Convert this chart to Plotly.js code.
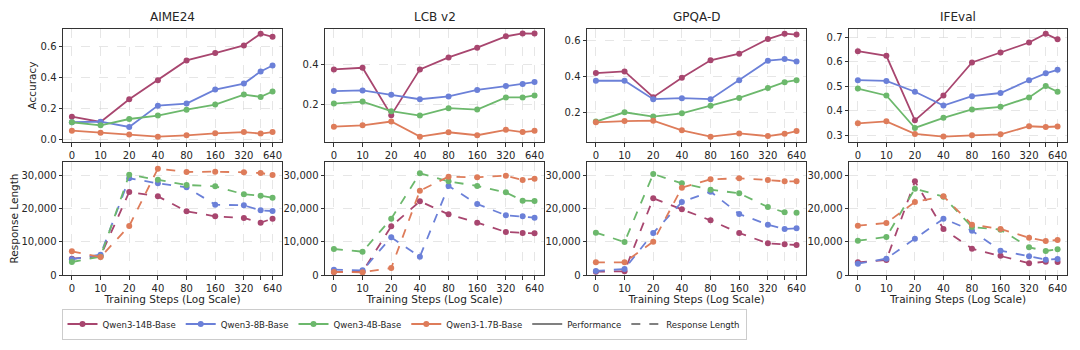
<!DOCTYPE html>
<html><head><meta charset="utf-8">
<script src="https://cdn.plot.ly/plotly-3.0.1.min.js"></script>
<style>html,body{margin:0;padding:0;background:#fff}#chart{width:1080px;height:350px}</style>
</head><body><div id="chart"></div>
<script>
const steps = [0, 10, 20, 40, 80, 160, 320, 480, 640];
const tickSteps = [0, 10, 20, 40, 80, 160, 320, 480, 640];
const tickLabels = ['0', '10', '20', '40', '80', '160', '320', '', '640'];
const benchmarks = ['AIME24', 'LCB v2', 'GPQA-D', 'IFEval'];
const models = ['Qwen3-14B-Base', 'Qwen3-8B-Base', 'Qwen3-4B-Base', 'Qwen3-1.7B-Base'];

// Accuracy (performance)
const acc_AIME24_14B = [0.146, 0.112, 0.258, 0.381, 0.508, 0.555, 0.604, 0.680, 0.660];
const acc_AIME24_8B  = [0.110, 0.114, 0.080, 0.217, 0.230, 0.320, 0.359, 0.437, 0.475];
const acc_AIME24_4B  = [0.110, 0.090, 0.131, 0.153, 0.191, 0.224, 0.288, 0.273, 0.308];
const acc_AIME24_17B = [0.056, 0.043, 0.032, 0.017, 0.026, 0.039, 0.047, 0.037, 0.047];

const acc_LCB_14B = [0.375, 0.383, 0.145, 0.375, 0.435, 0.484, 0.541, 0.556, 0.555];
const acc_LCB_8B  = [0.266, 0.269, 0.247, 0.225, 0.239, 0.272, 0.291, 0.301, 0.311];
const acc_LCB_4B  = [0.203, 0.213, 0.165, 0.143, 0.180, 0.173, 0.234, 0.234, 0.244];
const acc_LCB_17B = [0.087, 0.094, 0.113, 0.037, 0.059, 0.044, 0.071, 0.060, 0.066];

const acc_GPQA_14B = [0.419, 0.428, 0.284, 0.393, 0.490, 0.527, 0.609, 0.639, 0.634];
const acc_GPQA_8B  = [0.376, 0.376, 0.273, 0.279, 0.273, 0.379, 0.488, 0.497, 0.484];
const acc_GPQA_4B  = [0.148, 0.200, 0.176, 0.194, 0.237, 0.280, 0.335, 0.368, 0.379];
const acc_GPQA_17B = [0.144, 0.151, 0.153, 0.099, 0.064, 0.082, 0.067, 0.080, 0.095];

const acc_IFEval_14B = [0.643, 0.624, 0.362, 0.463, 0.597, 0.638, 0.678, 0.714, 0.691];
const acc_IFEval_8B  = [0.525, 0.522, 0.478, 0.422, 0.460, 0.473, 0.525, 0.553, 0.567];
const acc_IFEval_4B  = [0.491, 0.463, 0.331, 0.372, 0.406, 0.417, 0.455, 0.501, 0.478];
const acc_IFEval_17B = [0.350, 0.358, 0.307, 0.296, 0.301, 0.305, 0.338, 0.335, 0.337];

// Response length
const len_AIME24_14B = [4900, 5700, 24900, 23600, 19100, 17600, 17100, 15700, 16900];
const len_AIME24_8B  = [4700, 6100, 29000, 27500, 26300, 21100, 20900, 19400, 19200];
const len_AIME24_4B  = [3900, 5500, 30100, 28600, 27000, 26600, 24200, 23800, 23200];
const len_AIME24_17B = [7100, 5400, 14700, 31900, 30900, 31000, 30800, 30600, 30000];

const len_LCB_14B = [900, 1000, 14600, 22100, 18200, 15700, 12900, 12600, 12500];
const len_LCB_8B  = [1600, 1400, 11300, 5500, 26700, 21300, 17900, 17600, 17200];
const len_LCB_4B  = [7800, 7000, 16900, 30500, 28100, 26700, 24800, 22300, 22200];
const len_LCB_17B = [900, 800, 2100, 25300, 29500, 29300, 29800, 28500, 28900];

const len_GPQA_14B = [1000, 1100, 23000, 19700, 16400, 12600, 9500, 9200, 9000];
const len_GPQA_8B  = [1200, 1800, 12600, 21900, 25000, 18300, 15100, 13800, 14000];
const len_GPQA_4B  = [12700, 9900, 30300, 27500, 25600, 24500, 20400, 18800, 18700];
const len_GPQA_17B = [3800, 3800, 10000, 26200, 28700, 29000, 28500, 28100, 28100];

const len_IFEval_14B = [3800, 4500, 28100, 13800, 7900, 5800, 3500, 4000, 3900];
const len_IFEval_8B  = [3400, 4900, 10900, 16900, 13300, 7300, 5600, 4600, 4800];
const len_IFEval_4B  = [10300, 11400, 25900, 23500, 14400, 13600, 8300, 7200, 7700];
const len_IFEval_17B = [14800, 15600, 21900, 23600, 15100, 13800, 11200, 10200, 10500];

const accData = [
  [acc_AIME24_14B, acc_AIME24_8B, acc_AIME24_4B, acc_AIME24_17B],
  [acc_LCB_14B, acc_LCB_8B, acc_LCB_4B, acc_LCB_17B],
  [acc_GPQA_14B, acc_GPQA_8B, acc_GPQA_4B, acc_GPQA_17B],
  [acc_IFEval_14B, acc_IFEval_8B, acc_IFEval_4B, acc_IFEval_17B]
];
const lenData = [
  [len_AIME24_14B, len_AIME24_8B, len_AIME24_4B, len_AIME24_17B],
  [len_LCB_14B, len_LCB_8B, len_LCB_4B, len_LCB_17B],
  [len_GPQA_14B, len_GPQA_8B, len_GPQA_4B, len_GPQA_17B],
  [len_IFEval_14B, len_IFEval_8B, len_IFEval_4B, len_IFEval_17B]
];

const accTicks = [[0, 0.2, 0.4, 0.6], [0.2, 0.4], [0.2, 0.4, 0.6], [0.3, 0.4, 0.5, 0.6, 0.7]];
const accTickText = [['0.0', '0.2', '0.4', '0.6'], ['0.2', '0.4'], ['0.2', '0.4', '0.6'], ['0.3', '0.4', '0.5', '0.6', '0.7']];
const accRanges = [[-0.017, 0.71], [0.01, 0.578], [0.034, 0.665], [0.274, 0.733]];
const lenTicks = [0, 10000, 20000, 30000];
const lenTickText = ['0', '10,000', '20,000', '30,000'];

const colors = ['#a8466f', '#6b80d8', '#6cb86c', '#de7c5a'];

// log2 step scale (step 0 placed one unit left of step 10)
const stepPos = s => s === 0 ? 0 : Math.log2(s / 10) + 1;
const xs = steps.map(stepPos);
const tickPos = tickSteps.map(stepPos);

const W = 1080, H = 350;
const colX = [[63, 282], [325, 544], [587, 806], [849, 1067]];
const topY = [29, 142], botY = [162, 275];
const dom = (a, b) => [a / W, b / W];
const domY = (t, b) => [1 - b / H, 1 - t / H];

const font = 'DejaVu Sans, sans-serif';
const txtColor = '#262626';
const traces = [];
const layout = {
  width: W, height: H, margin: {l: 0, r: 0, t: 0, b: 0},
  paper_bgcolor: '#fff', plot_bgcolor: '#fff',
  font: {family: font, size: 10, color: txtColor},
  showlegend: true,
  legend: {
    orientation: 'h', x: 404 / W, xanchor: 'center', y: 1 - 324 / H, yanchor: 'middle',
    bordercolor: '#cccccc', borderwidth: 1, bgcolor: '#fff',
    font: {family: 'DejaVu Sans Condensed, sans-serif', size: 9.5, color: txtColor},
    itemwidth: 30, tracegroupgap: 0, traceorder: 'normal'
  },
  annotations: []
};

function axisCommon() {
  return {
    showline: true, mirror: true, linecolor: '#333', linewidth: 1,
    ticks: 'outside', ticklen: 3.5, tickwidth: 1, tickcolor: '#333',
    showgrid: true, gridcolor: '#d6d6d6', griddash: 'dash', gridwidth: 0.6,
    zeroline: false, tickfont: {family: font, size: 10, color: txtColor}
  };
}

for (let c = 0; c < 4; c++) {
  const iTop = c + 1, iBot = c + 5;
  const sT = iTop === 1 ? '' : String(iTop);
  const xaT = 'xaxis' + sT, yaT = 'yaxis' + sT;
  const xaB = 'xaxis' + iBot, yaB = 'yaxis' + iBot;
  layout[xaT] = Object.assign(axisCommon(), {domain: dom(...colX[c]), anchor: 'y' + sT,
    range: [-0.31, 7.33], tickmode: 'array', tickvals: tickPos, ticktext: tickLabels});
  layout[yaT] = Object.assign(axisCommon(), {domain: domY(...topY), anchor: 'x' + sT,
    range: accRanges[c], tickmode: 'array', tickvals: accTicks[c], ticktext: accTickText[c]});
  layout[xaB] = Object.assign(axisCommon(), {domain: dom(...colX[c]), anchor: 'y' + iBot,
    range: [-0.31, 7.33], tickmode: 'array', tickvals: tickPos, ticktext: tickLabels,
    title: {text: 'Training Steps (Log Scale)', font: {family: font, size: 10.5, color: txtColor}, standoff: 2}});
  layout[yaB] = Object.assign(axisCommon(), {domain: domY(...botY), anchor: 'x' + iBot,
    range: [0, 33900], tickmode: 'array', tickvals: lenTicks, ticktext: lenTickText});
  layout.annotations.push({
    text: benchmarks[c], xref: 'paper', yref: 'paper',
    x: (colX[c][0] + colX[c][1]) / 2 / W, y: 1 - topY[0] / H, yshift: 3,
    xanchor: 'center', yanchor: 'bottom', showarrow: false,
    font: {family: font, size: 12, color: txtColor}
  });
  for (let m = 0; m < 4; m++) {
    traces.push({
      x: xs, y: accData[c][m], type: 'scatter', mode: 'lines+markers',
      xaxis: 'x' + sT, yaxis: 'y' + sT,
      name: models[m], legendgroup: models[m], showlegend: c === 0,
      line: {color: colors[m], width: 1.8}, marker: {color: colors[m], size: 6},
      hoverinfo: 'skip'
    });
    traces.push({
      x: xs, y: lenData[c][m], type: 'scatter', mode: 'lines+markers',
      xaxis: 'x' + iBot, yaxis: 'y' + iBot,
      name: models[m], legendgroup: models[m], showlegend: false,
      line: {color: colors[m], width: 1.8, dash: 'dash'}, marker: {color: colors[m], size: 6},
      hoverinfo: 'skip'
    });
  }
}
// Y-axis titles of the first column
layout.annotations.push({
  text: 'Accuracy', xref: 'paper', yref: 'paper', x: 32 / W, y: 1 - (topY[0] + topY[1]) / 2 / H,
  textangle: -90, showarrow: false, xanchor: 'center', yanchor: 'middle',
  font: {family: font, size: 10.5, color: txtColor}
});
layout.annotations.push({
  text: 'Response Length', xref: 'paper', yref: 'paper', x: 13 / W, y: 1 - (botY[0] + botY[1]) / 2 / H,
  textangle: -90, showarrow: false, xanchor: 'center', yanchor: 'middle',
  font: {family: font, size: 10.5, color: txtColor}
});
// Style legend entries
traces.push({x: [null], y: [null], type: 'scatter', mode: 'lines', name: 'Performance',
  line: {color: '#808080', width: 2}, xaxis: 'x', yaxis: 'y', showlegend: true});
traces.push({x: [null], y: [null], type: 'scatter', mode: 'lines', name: 'Response Length',
  line: {color: '#808080', width: 2, dash: 'dash'}, xaxis: 'x', yaxis: 'y', showlegend: true});

Plotly.newPlot('chart', traces, layout, {staticPlot: true, displayModeBar: false});
</script></body></html>
